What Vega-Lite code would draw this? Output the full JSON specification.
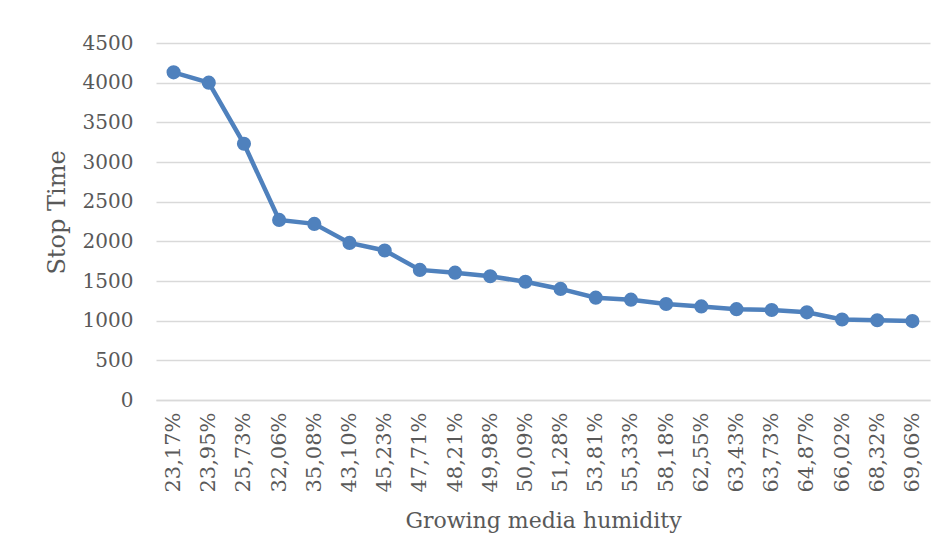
{
  "$schema": "https://vega.github.io/schema/vega-lite/v6.json",
  "autosize": "none",
  "width": 774,
  "height": 357,
  "padding": {"left": 156, "top": 43, "right": 14, "bottom": 160},
  "background": "white",
  "data": {
    "values": [
      {"humidity": "23,17%", "stop_time": 4130},
      {"humidity": "23,95%", "stop_time": 4000},
      {"humidity": "25,73%", "stop_time": 3230},
      {"humidity": "32,06%", "stop_time": 2270},
      {"humidity": "35,08%", "stop_time": 2220},
      {"humidity": "43,10%", "stop_time": 1980},
      {"humidity": "45,23%", "stop_time": 1885},
      {"humidity": "47,71%", "stop_time": 1640},
      {"humidity": "48,21%", "stop_time": 1605},
      {"humidity": "49,98%", "stop_time": 1560},
      {"humidity": "50,09%", "stop_time": 1490},
      {"humidity": "51,28%", "stop_time": 1400},
      {"humidity": "53,81%", "stop_time": 1290},
      {"humidity": "55,33%", "stop_time": 1265},
      {"humidity": "58,18%", "stop_time": 1210},
      {"humidity": "62,55%", "stop_time": 1180},
      {"humidity": "63,43%", "stop_time": 1145},
      {"humidity": "63,73%", "stop_time": 1135},
      {"humidity": "64,87%", "stop_time": 1105},
      {"humidity": "66,02%", "stop_time": 1015},
      {"humidity": "68,32%", "stop_time": 1005},
      {"humidity": "69,06%", "stop_time": 995}
    ]
  },
  "encoding": {
    "x": {
      "field": "humidity",
      "type": "ordinal",
      "sort": null,
      "scale": {"type": "point", "padding": 0.5},
      "axis": {
        "title": "Growing media humidity",
        "labelAngle": -90,
        "labelAlign": "right",
        "labelBaseline": "middle",
        "labelPadding": 12,
        "labelFont": "DejaVu Serif",
        "labelFontSize": 21,
        "labelColor": "#595959",
        "ticks": false,
        "domain": true,
        "domainColor": "#d9d9d9",
        "domainWidth": 1.5,
        "grid": false,
        "titleFont": "DejaVu Serif",
        "titleFontSize": 22,
        "titleFontWeight": "normal",
        "titleColor": "#595959",
        "titleX": 387,
        "titleY": 120,
        "titleAlign": "center",
        "titleBaseline": "middle"
      }
    },
    "y": {
      "field": "stop_time",
      "type": "quantitative",
      "scale": {"domain": [0, 4500], "nice": false, "zero": true},
      "axis": {
        "title": "Stop Time",
        "values": [0, 500, 1000, 1500, 2000, 2500, 3000, 3500, 4000, 4500],
        "format": "d",
        "labelFont": "DejaVu Serif",
        "labelFontSize": 20,
        "labelColor": "#595959",
        "labelPadding": 23,
        "ticks": false,
        "domain": false,
        "grid": true,
        "gridColor": "#d9d9d9",
        "gridWidth": 1.5,
        "titleFont": "DejaVu Serif",
        "titleFontSize": 24,
        "titleFontWeight": "normal",
        "titleColor": "#595959",
        "titleAngle": -90,
        "titleX": -99,
        "titleY": 169,
        "titleAlign": "center",
        "titleBaseline": "middle"
      }
    }
  },
  "layer": [
    {"mark": {"type": "line", "color": "#4f81bd", "strokeWidth": 4.5}},
    {"mark": {"type": "point", "filled": true, "color": "#4f81bd", "opacity": 1, "size": 200}}
  ],
  "config": {
    "view": {"stroke": null}
  }
}
